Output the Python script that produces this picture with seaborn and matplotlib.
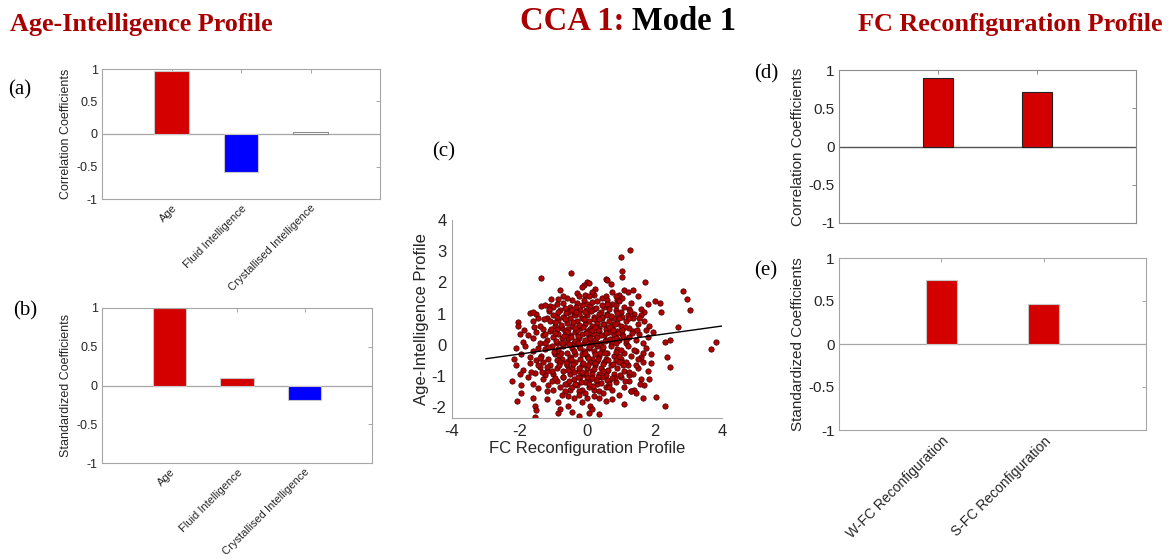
import matplotlib
matplotlib.use("Agg")
import matplotlib.pyplot as plt
import seaborn as sns
import pandas as pd
from matplotlib.ticker import FuncFormatter

# ---------------- data ----------------
ai_categories = ["Age", "Fluid Intelligence", "Crystallised Intelligence"]
ai_corr = [0.97, -0.58, 0.035]
ai_std = [1.0, 0.10, -0.19]
ai_corr_colors = ["#D40000", "#0000FF", "#FFFFFF"]
ai_std_colors = ["#D40000", "#D40000", "#0000FF"]

fc_categories = ["W-FC Reconfiguration", "S-FC Reconfiguration"]
fc_corr = [0.90, 0.715]
fc_std = [0.745, 0.463]

fit_x = [-3.0, 4.0]
fit_slope = 0.15
fit_intercept = 0.0

scatter_points = [
    (1.28, 3.03), (1.0, 2.8), (1.05, 2.36), (1.05, 2.17), (-1.35, 2.14), (-0.46, 2.3), (1.72, 2.0),
    (0.0, 2.02), (0.05, 1.98), (0.55, 2.12), (0.6, 2.08), (0.7, 1.95), (-0.1, 1.9),
    (-0.8, 1.75), (-0.3, 1.65), (-0.25, 1.55), (-0.45, 1.45), (0.25, 1.8), (0.45, 1.5), (0.55, 1.55),
    (0.6, 1.45), (0.95, 1.6), (1.1, 1.75), (1.2, 1.7), (1.35, 1.75), (0.9, 1.45), (1.05, 1.5),
    (-0.6, 1.5), (-0.15, 1.85), (0.2, 1.6), (-0.7, 1.55), (2.83, 1.72), (2.96, 1.48), (0.15, 1.7),
    (-0.05, 1.6), (0.75, 1.7), (1.5, 1.55),
    (-1.35, 1.25), (-1.25, 1.28), (-1.1, 1.25), (-1.0, 1.22), (-0.9, 1.3), (-0.5, 1.2), (-0.55, 1.05),
    (-0.3, 1.35), (-0.2, 1.1), (0.0, 1.3), (0.1, 1.25), (0.3, 1.4), (0.5, 1.2), (0.6, 1.0), (0.75, 1.3),
    (0.85, 1.1), (1.0, 1.05), (1.1, 1.2), (1.25, 1.15), (1.4, 1.0), (1.6, 1.15), (1.7, 1.05), (2.0, 1.4),
    (2.15, 1.35), (3.04, 1.1), (2.2, 1.05), (-1.7, 1.02), (-1.5, 1.0), (-1.6, 1.05), (-0.8, 1.1),
    (-0.1, 1.45), (0.4, 1.05), (0.2, 1.15), (-0.4, 1.0), (0.95, 1.4), (1.3, 1.35), (-0.7, 1.35),
    (0.65, 1.25), (1.8, 1.3),
    (-2.05, 0.72), (-2.05, 0.6), (-1.4, 0.6), (-1.3, 0.5), (-1.2, 0.85), (-1.1, 0.75), (-1.0, 0.95),
    (-0.95, 0.6), (-0.85, 0.8), (-0.75, 0.55), (-0.7, 0.9), (-0.6, 0.7), (-0.5, 0.85), (-0.45, 0.6),
    (-0.35, 0.95), (-0.3, 0.75), (-0.2, 0.55), (-0.15, 0.85), (-0.05, 0.65), (0.0, 0.95), (0.05, 0.75),
    (0.15, 0.6), (0.2, 0.9), (0.3, 0.7), (0.35, 0.55), (0.45, 0.85), (0.5, 0.65), (0.6, 0.95), (0.65, 0.75),
    (0.75, 0.55), (0.8, 0.85), (0.9, 0.7), (1.0, 0.6), (1.05, 0.9), (1.15, 0.75), (1.25, 0.55), (1.35, 0.85),
    (1.5, 0.65), (1.6, 0.95), (1.7, 0.75), (1.85, 0.6), (2.69, 0.57), (-1.6, 0.75), (-0.25, 0.98),
    (0.1, 0.52), (0.55, 0.52), (1.2, 0.95), (-0.9, 0.5), (0.35, 0.98), (-0.55, 0.5),
    (-1.9, 0.1), (-1.75, 0.3), (-1.6, 0.2), (-1.5, 0.4), (-1.4, 0.05), (-1.3, 0.3), (-1.2, 0.15),
    (-1.1, 0.45), (-1.0, 0.25), (-0.9, 0.05), (-0.85, 0.35), (-0.75, 0.2), (-0.65, 0.45), (-0.6, 0.1),
    (-0.5, 0.3), (-0.4, 0.05), (-0.35, 0.4), (-0.25, 0.2), (-0.15, 0.35), (-0.1, 0.05), (0.0, 0.45),
    (0.05, 0.25), (0.1, 0.1), (0.2, 0.35), (0.25, 0.15), (0.35, 0.45), (0.4, 0.05), (0.5, 0.3), (0.55, 0.15),
    (0.65, 0.4), (0.7, 0.1), (0.8, 0.3), (0.9, 0.45), (0.95, 0.15), (1.05, 0.35), (1.15, 0.05), (1.25, 0.25),
    (1.35, 0.45), (1.45, 0.15), (1.55, 0.35), (1.65, 0.05), (1.8, 0.25), (1.95, 0.4), (2.3, 0.08),
    (2.45, 0.15), (3.81, 0.1), (-2.0, 0.35), (-0.3, 0.48), (0.3, 0.25), (0.85, 0.2), (-0.05, 0.15),
    (-0.55, 0.22),
    (-2.1, -0.1), (-1.95, -0.3), (-1.85, -0.05), (-1.7, -0.4), (-1.6, -0.2), (-1.45, -0.1), (-1.35, -0.35),
    (-1.25, -0.15), (-1.15, -0.45), (-1.05, -0.05), (-0.95, -0.3), (-0.85, -0.15), (-0.75, -0.45),
    (-0.7, -0.05), (-0.6, -0.25), (-0.5, -0.4), (-0.45, -0.1), (-0.35, -0.3), (-0.25, -0.05), (-0.2, -0.45),
    (-0.1, -0.2), (0.0, -0.35), (0.05, -0.1), (0.15, -0.45), (0.2, -0.2), (0.3, -0.05), (0.35, -0.35),
    (0.45, -0.15), (0.55, -0.45), (0.6, -0.25), (0.7, -0.05), (0.8, -0.35), (0.9, -0.15), (1.0, -0.45),
    (1.1, -0.25), (1.2, -0.05), (1.3, -0.35), (1.45, -0.2), (1.6, -0.4), (1.75, -0.1), (1.9, -0.3),
    (2.37, -0.38), (3.67, -0.14), (-2.15, -0.45), (-0.9, -0.48), (0.25, -0.3), (-0.4, -0.2), (0.85, -0.48),
    (1.5, -0.45), (-1.5, -0.48),
    (-2.1, -0.65), (-1.9, -0.8), (-1.7, -0.6), (-1.55, -0.9), (-1.4, -0.7), (-1.3, -0.55), (-1.2, -0.85),
    (-1.1, -0.65), (-1.0, -0.95), (-0.9, -0.75), (-0.8, -0.55), (-0.7, -0.85), (-0.6, -0.65), (-0.5, -0.95),
    (-0.45, -0.75), (-0.35, -0.55), (-0.25, -0.85), (-0.15, -0.65), (-0.1, -0.95), (0.0, -0.75), (0.1, -0.55),
    (0.15, -0.85), (0.25, -0.65), (0.35, -0.95), (0.4, -0.75), (0.5, -0.55), (0.6, -0.85), (0.7, -0.65),
    (0.8, -0.95), (0.9, -0.75), (1.0, -0.55), (1.1, -0.85), (1.2, -0.65), (1.35, -0.95), (1.5, -0.75),
    (1.65, -0.55), (1.8, -0.85), (1.9, -0.6), (2.47, -0.72), (-2.0, -0.95), (-0.55, -0.52), (0.3, -0.52),
    (-1.25, -0.98), (0.55, -0.98), (1.25, -0.98),
    (-2.23, -1.16), (-1.95, -1.3), (-1.75, -1.05), (-1.6, -1.25), (-1.45, -1.4), (-1.3, -1.1), (-1.15, -1.3),
    (-1.0, -1.45), (-0.9, -1.15), (-0.8, -1.35), (-0.7, -1.05), (-0.6, -1.25), (-0.5, -1.45), (-0.4, -1.1),
    (-0.3, -1.3), (-0.2, -1.05), (-0.15, -1.45), (-0.05, -1.2), (0.05, -1.35), (0.1, -1.1), (0.2, -1.45),
    (0.3, -1.25), (0.45, -1.05), (0.55, -1.35), (0.65, -1.15), (0.75, -1.45), (0.85, -1.2), (1.0, -1.05),
    (1.1, -1.35), (1.25, -1.15), (1.4, -1.45), (1.6, -1.1), (1.7, -1.3), (1.85, -1.1), (-0.25, -1.5),
    (0.0, -1.02), (-1.2, -1.48), (0.35, -1.48), (1.3, -1.48), (-0.65, -1.48),
    (-2.08, -1.82), (-1.95, -1.55), (-1.6, -1.7), (-1.55, -1.95), (-1.2, -1.75), (-0.85, -1.85),
    (-0.75, -1.6), (-0.55, -1.95), (-0.4, -1.7), (-0.25, -1.6), (-0.15, -1.85), (0.0, -1.7), (0.1, -1.95),
    (0.2, -1.65), (0.35, -1.7), (0.55, -1.8), (0.75, -1.75), (0.95, -1.6), (1.1, -1.9), (1.3, -1.5),
    (1.45, -1.55), (1.65, -1.7), (2.04, -1.68), (2.3, -1.96), (-0.05, -1.55),
    (-1.54, -2.33), (-0.85, -2.2), (-0.45, -2.15), (-0.23, -2.3), (0.05, -2.2), (0.36, -2.23),
    (-0.8, -2.05), (-1.5, -2.1), (0.15, -2.05),
    (-0.92, 0.12), (-0.78, 0.62), (-0.62, -0.58), (-0.48, 1.12), (-0.38, -0.88), (-0.28, 0.28),
    (-0.18, -1.18), (-0.08, 0.82), (0.02, -0.42), (0.12, 1.08), (0.22, -0.78), (0.32, 0.48), (0.42, -1.22),
    (0.52, 0.12), (0.62, -0.48), (0.72, 0.92), (0.82, -1.08), (0.92, 0.38), (1.02, -0.18), (1.12, 0.58),
    (-0.98, -0.22), (-0.88, 0.88), (-0.72, -1.02), (-0.58, 0.42), (-0.42, -0.62), (-0.32, 1.22),
    (-0.22, -0.12), (-0.12, 0.58), (-0.02, -0.92), (0.08, 0.22), (0.18, -1.32), (0.28, 1.18), (0.38, -0.28),
    (0.48, 0.68), (0.58, -1.12), (0.68, 0.18), (0.78, -0.62), (0.88, 1.02), (0.98, -0.98), (1.08, 0.28),
    (-1.08, 0.52), (-1.18, -0.72), (-1.28, 0.82), (-1.38, -0.42), (-0.52, 0.02), (-0.42, 0.72),
    (-0.12, -0.58), (0.12, -0.02), (0.42, 0.32), (0.62, -0.82), (-0.68, 0.28), (-0.28, -1.02), (0.22, 0.82),
    (0.48, -0.62), (0.78, 0.48), (-0.82, -0.32), (-0.02, 1.12), (0.32, -1.02), (0.58, 1.32), (-0.62, 1.02),
    (-0.35, 0.12), (-0.15, -0.3), (0.05, 0.4), (0.25, -0.6), (0.45, 0.9), (-0.55, -0.8), (-0.75, 0.05),
    (0.15, -0.95), (0.85, 0.05), (1.15, -0.55), (-1.05, -0.85), (-0.25, 0.62), (0.35, 0.02), (0.65, 1.15),
    (-0.45, -1.35), (0.05, -1.25), (-0.85, 1.05), (0.95, -0.35), (1.25, 0.85), (-1.25, 0.35),
    (-1.12, 1.08), (-0.96, 0.72), (-0.84, -0.64), (-0.66, 1.18), (-0.54, -1.16), (-0.36, 0.54),
    (-0.24, -0.74), (-0.06, 1.04), (0.04, -0.64), (0.16, 0.46), (0.26, -1.14), (0.36, 0.84), (0.46, -0.84),
    (0.56, 0.36), (0.66, -1.26), (0.76, 0.66), (0.86, -0.24), (0.96, 0.86), (1.06, -0.66), (1.16, 0.16),
    (-1.16, -0.06), (-1.04, -1.16), (-0.94, 0.36), (-0.76, -0.26), (-0.64, 0.84), (-0.46, -0.46),
    (-0.34, 1.06), (-0.16, -0.86), (-0.04, 0.36), (0.14, -1.06), (0.24, 0.56), (0.34, -0.46), (0.44, 1.26),
    (0.54, -0.26), (0.64, 0.56), (0.74, -1.06), (0.84, 0.66), (0.94, -0.56), (1.04, 0.46), (1.14, -1.16),
    (-1.44, 0.86), (-1.34, -0.86), (-1.24, 0.06), (-1.14, 1.16), (-1.46, -0.66), (-0.96, -1.06),
    (1.24, -0.86), (1.34, 0.36), (1.44, -0.66), (1.54, 0.86), (1.28, 1.08), (1.38, -0.16), (1.48, 0.48),
    (-0.26, 0.06), (0.06, -0.06), (0.26, 0.06), (-0.06, -0.26), (0.46, -0.06), (-0.46, 0.26),
    (-0.16, 1.26), (0.16, 1.36), (-0.66, -1.26), (0.66, -1.36), (-0.36, -1.26), (0.86, 1.26),
    (-1.56, 0.56), (-1.66, -0.86), (1.66, -0.26), (1.76, 0.46), (-1.86, 0.46), (1.56, -1.26),
    (-0.86, 1.46), (0.06, 1.56), (-0.56, -1.66), (0.46, -1.56), (0.86, 1.56), (-1.06, 1.46),
]
scatter_x = [p[0] for p in scatter_points]
scatter_y = [p[1] for p in scatter_points]

# ---------------- style ----------------
sns.set_theme(style="white")
plt.rcParams["font.family"] = ["Liberation Sans", "DejaVu Sans"]
plt.rcParams["axes.unicode_minus"] = False
TICK_COLOR = "#262626"
SPINE_COLOR = "#A6A6A6"
RED = "#D40000"
TITLE_RED = "#A80000"

W, H = 1169, 560
fig = plt.figure(figsize=(W / 100, H / 100), dpi=100)


def axes_px(x0, y0, x1, y1):
    return fig.add_axes([x0 / W, 1 - y1 / H, (x1 - x0) / W, (y1 - y0) / H])


def style_box(ax, fs, spine_color=SPINE_COLOR):
    for s in ax.spines.values():
        s.set_visible(True)
        s.set_color(spine_color)
        s.set_linewidth(0.8)
    ax.tick_params(direction="in", top=True, right=True, length=3, width=0.7,
                   color=spine_color, labelsize=fs, labelcolor=TICK_COLOR, pad=3)
    ax.set_ylim(-1, 1)
    ax.set_yticks([-1, -0.5, 0, 0.5, 1])
    ax.yaxis.set_major_formatter(FuncFormatter(lambda v, p: f"{v:g}"))
    ax.axhline(0, color=spine_color, lw=0.9, zorder=0.5)


def bar_panel(ax, cats, vals, colors, edges, width, fs, xfs, ylabel, show_x,
              spine_color=SPINE_COLOR):
    df = pd.DataFrame({"cat": cats, "val": vals})
    sns.barplot(data=df, x="cat", y="val", hue="cat", palette=colors, width=width,
                legend=False, ax=ax, saturation=1, zorder=2)
    for patch, ec in zip(ax.patches, edges):
        patch.set_edgecolor(ec)
        patch.set_linewidth(0.8)
    ax.set_xlim(-1, len(cats))
    style_box(ax, fs, spine_color)
    ax.set_xlabel("")
    ax.set_ylabel(ylabel, fontsize=fs, color=TICK_COLOR, labelpad=3)
    ax.set_xticks(range(len(cats)))
    if show_x:
        ax.set_xticklabels(cats, rotation=45, ha="right", rotation_mode="anchor",
                           fontsize=xfs, color=TICK_COLOR)
    else:
        ax.set_xticklabels([])


# (a)
ax_a = axes_px(102, 69, 380, 199)
bar_panel(ax_a, ai_categories, ai_corr, ai_corr_colors,
          ["#C8C8C8", "#C8C8C8", "#8C8C8C"], 0.5, 9, 8, "Correlation Coefficients", True)

# (b)
ax_b = axes_px(102, 308, 372, 463)
bar_panel(ax_b, ai_categories, ai_std, ai_std_colors,
          ["#C8C8C8", "#C8C8C8", "#C8C8C8"], 0.5, 9, 8, "Standardized Coefficients", True)

# (d)
ax_d = axes_px(839, 70, 1136, 223)
bar_panel(ax_d, fc_categories, fc_corr, [RED, RED], ["#222222", "#222222"], 0.3, 11, 10,
          "Correlation Coefficients", False, spine_color="#8C8C8C")
ax_d.axhline(0, color="#555555", lw=0.9, zorder=0.6)

# (e)
ax_e = axes_px(839, 258, 1146, 430)
bar_panel(ax_e, fc_categories, fc_std, [RED, RED], ["#C8C8C8", "#C8C8C8"], 0.3, 11, 10,
          "Standardized Coefficients", True)

# (c) scatter
ax_c = axes_px(452, 220, 722, 418)
sns.scatterplot(x=scatter_x, y=scatter_y, ax=ax_c, s=15, color="#B30000",
                edgecolor="#3A0000", linewidth=0.5, zorder=2)
line_y = [fit_intercept + fit_slope * v for v in fit_x]
sns.lineplot(x=fit_x, y=line_y, ax=ax_c, color="black", lw=1.0, zorder=3)
ax_c.set_xlim(-4, 4)
ax_c.set_ylim(-2.35, 4)
ax_c.set_xticks([-4, -2, 0, 2, 4])
ax_c.set_yticks([-2, -1, 0, 1, 2, 3, 4])
for side in ["top", "right"]:
    ax_c.spines[side].set_visible(False)
for side in ["left", "bottom"]:
    ax_c.spines[side].set_visible(True)
    ax_c.spines[side].set_color(SPINE_COLOR)
    ax_c.spines[side].set_linewidth(0.8)
ax_c.tick_params(direction="in", length=3, width=0.7, color=SPINE_COLOR,
                 labelsize=12, labelcolor=TICK_COLOR, pad=4)
ax_c.set_xlabel("FC Reconfiguration Profile", fontsize=12, color=TICK_COLOR, labelpad=2)
ax_c.set_ylabel("Age-Intelligence Profile", fontsize=12, color=TICK_COLOR, labelpad=2)

# ---------------- titles and panel labels ----------------
serif = ["Liberation Serif", "DejaVu Serif"]
fig.text(10 / W, 1 - 25 / H, "Age-Intelligence Profile", family=serif, fontsize=18.8,
         fontweight="bold", color=TITLE_RED, ha="left", va="center")
fig.text(1163 / W, 1 - 24 / H, "FC Reconfiguration Profile", family=serif, fontsize=18.8,
         fontweight="bold", color=TITLE_RED, ha="right", va="center")
t1 = fig.text(520 / W, 1 - 22 / H, "CCA 1: ", family=serif, fontsize=23.5,
              fontweight="bold", color=TITLE_RED, ha="left", va="center")
fig.canvas.draw()
bb = t1.get_window_extent()
fig.text(bb.x1 / W, 1 - 22 / H, "Mode 1", family=serif, fontsize=23.5,
         fontweight="bold", color="black", ha="left", va="center")

for lbl, (px, py) in {"(a)": (20, 90), "(b)": (25, 311), "(c)": (444, 152),
                      "(d)": (766, 74), "(e)": (766, 271)}.items():
    fig.text(px / W, 1 - py / H, lbl, family=serif, fontsize=15, color="black",
             ha="center", va="center")

fig.savefig("out.png", dpi=100)
